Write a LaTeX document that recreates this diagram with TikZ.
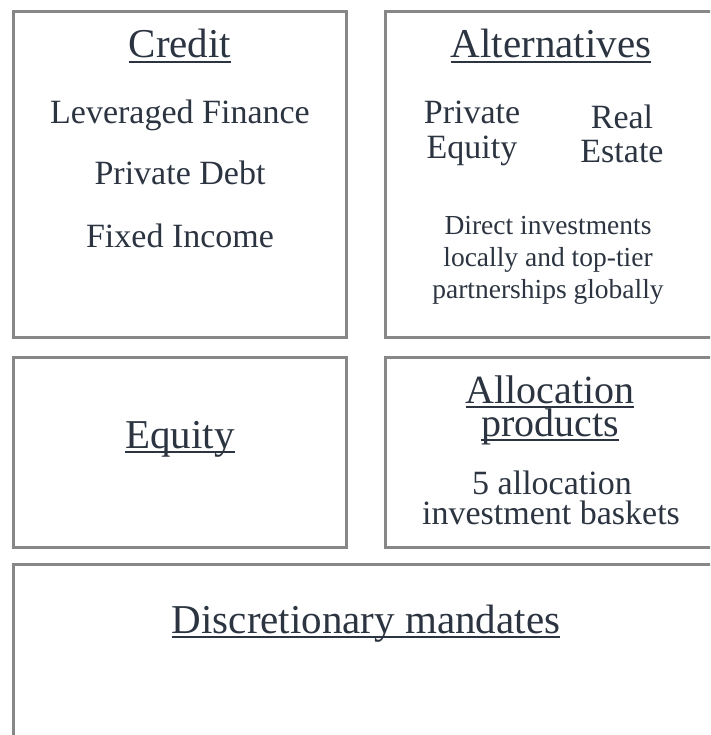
\documentclass[tikz,border=0pt]{standalone}
\usepackage{fontspec}
\setmainfont{Liberation Serif}
\definecolor{inkgrey}{HTML}{2B3440}
\definecolor{framegrey}{HTML}{878787}
% underlined heading, rule at a fixed distance under the baseline
\newcommand\headline[1]{\vtop{\setbox0\hbox{#1}\dp0=0pt\box0\kern2.8pt\hrule height 1.8pt}}
\tikzset{
  panel/.style={draw=framegrey, line width=3pt},
  head/.style={anchor=base, text=inkgrey, inner sep=0pt, font=\fontsize{41}{41}\selectfont},
  item/.style={anchor=base, text=inkgrey, inner sep=0pt, font=\fontsize{34}{34}\selectfont},
  note/.style={anchor=base, text=inkgrey, inner sep=0pt, font=\fontsize{27.5}{27.5}\selectfont},
}
\begin{document}
\begin{tikzpicture}[x=1pt, y=-1pt]
    \useasboundingbox (0,0) rectangle (710,735);
    \clip (0,0) rectangle (710,735);
    % frames
    \draw[panel] (13,12) rectangle (346,337);
    \draw[panel] (385,12) rectangle (730,337);
    \draw[panel] (13,357) rectangle (346,547);
    \draw[panel] (385,357) rectangle (730,547);
    \draw[panel] (13,564) rectangle (730,760);
    % credit
    \node[head] (credit) at (180,58) {\headline{Credit}};
    \foreach \y/\txt [count=\i] in {124/Leveraged Finance, 185/Private Debt, 247/Fixed Income}{
        \node[item] (credit-\i) at (180,\y) {\txt};
    }
    % alternatives
    \node[head] (alt) at (551,58) {\headline{Alternatives}};
    \node[item] (pe-1) at (472,124) {Private};
    \node[item] (pe-2) at (472,159) {Equity};
    \node[item] (re-1) at (622,129) {Real};
    \node[item] (re-2) at (622,163) {Estate};
    \foreach \y/\txt [count=\i] in {234/Direct investments, 266/locally and top-tier, 298/partnerships globally}{
        \node[note] (alt-\i) at (548,\y) {\txt};
    }
    % equity
    \node[head] (equity) at (180,448) {\headline{Equity}};
    % allocation products
    \node[head, font=\fontsize{40}{40}\selectfont] (alloc-1) at (550,403) {\headline{Allocation}};
    \node[head, font=\fontsize{40}{40}\selectfont] (alloc-2) at (550,436) {\headline{products}};
    \node[item] (basket-1) at (552,494) {5 allocation};
    \node[item] (basket-2) at (551,524) {investment baskets};
    % mandates
    \node[head] (disc) at (366,633) {\headline{Discretionary mandates}};
\end{tikzpicture}
\end{document}
